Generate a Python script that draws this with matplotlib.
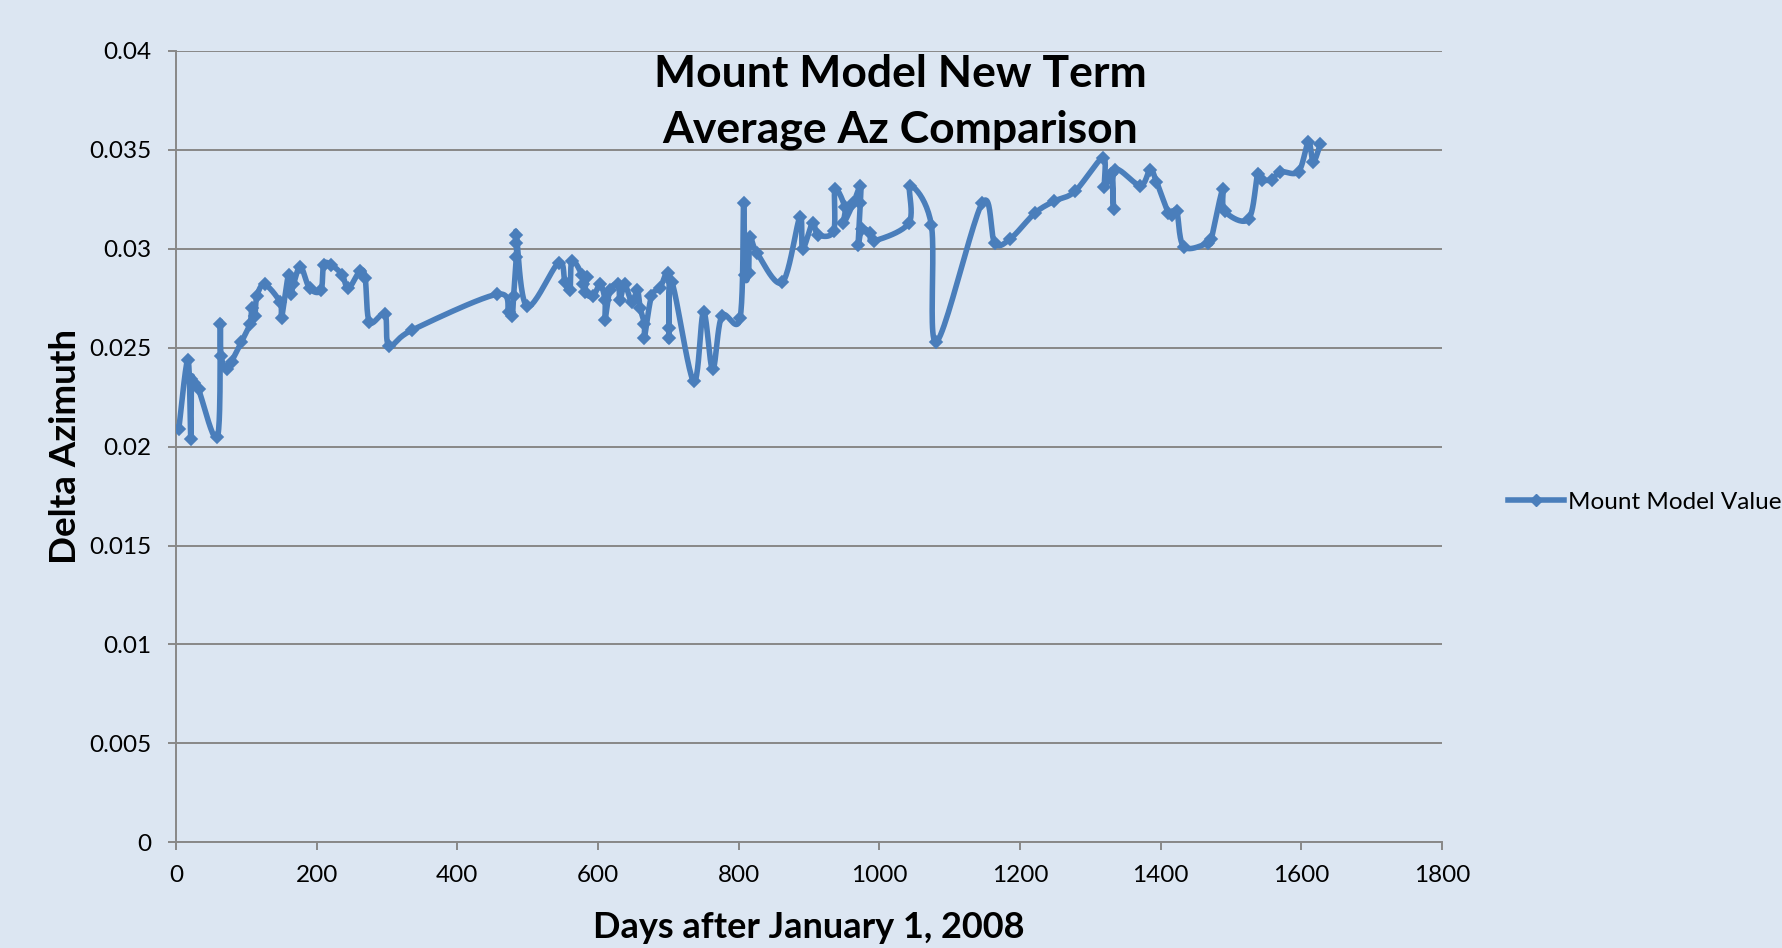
import numpy as np
import matplotlib
matplotlib.use('Agg')
import matplotlib.pyplot as plt
from matplotlib.lines import Line2D

# Days after January 1, 2008 and delta azimuth
days = [4, 17, 21, 22, 26, 32, 59, 63, 64, 72, 79, 93, 105, 108, 112, 115, 126,
        148, 150, 160, 163, 167, 177, 190, 206, 210, 220, 236, 245, 262, 269, 275,
        297, 303, 336, 456, 473, 478, 480, 484, 484, 484, 499, 544, 553, 560, 563,
        577, 579, 584, 582, 593, 603, 610, 610, 617, 629, 631, 638, 648, 656, 660,
        666, 666, 676, 688, 700, 701, 701, 705, 736, 750, 763, 776, 802, 807, 809,
        814, 816, 826, 862, 887, 891, 905, 913, 935, 937, 951, 949, 963, 973, 973,
        970, 975, 987, 992, 1042, 1044, 1074, 1081, 1146, 1164, 1186, 1221, 1248,
        1278, 1318, 1320, 1330, 1333, 1335, 1371, 1385, 1394, 1411, 1416, 1423,
        1433, 1468, 1472, 1488, 1491, 1525, 1538, 1544, 1558, 1570, 1596, 1610,
        1617, 1627]
delta_az = [0.0209, 0.0244, 0.0204, 0.0234, 0.0232, 0.0229, 0.0205, 0.0262, 0.0246,
            0.0239, 0.0243, 0.0253, 0.0262, 0.0270, 0.0266, 0.0276, 0.0282,
            0.0273, 0.0265, 0.0287, 0.0277, 0.0282, 0.0291, 0.0280, 0.0279, 0.0292,
            0.0292, 0.0287, 0.0280, 0.0289, 0.0285, 0.0263,
            0.0267, 0.0251, 0.0259, 0.0277, 0.0268, 0.0266, 0.0276, 0.0296, 0.0303,
            0.0307, 0.0271, 0.0293, 0.0283, 0.0279, 0.0294,
            0.0287, 0.0282, 0.0286, 0.0278, 0.0276, 0.0282, 0.0274, 0.0264, 0.0279,
            0.0282, 0.0274, 0.0282, 0.0273, 0.0279, 0.0270,
            0.0262, 0.0255, 0.0276, 0.0280, 0.0288, 0.0260, 0.0255, 0.0283, 0.0233,
            0.0268, 0.0239, 0.0266, 0.0265, 0.0323, 0.0287,
            0.0288, 0.0306, 0.0298, 0.0283, 0.0316, 0.0300, 0.0313, 0.0307, 0.0309,
            0.0330, 0.0321, 0.0313, 0.0323, 0.0332, 0.0323,
            0.0302, 0.0310, 0.0308, 0.0304, 0.0313, 0.0332, 0.0312, 0.0253, 0.0323,
            0.0303, 0.0305, 0.0318, 0.0324, 0.0329, 0.0346, 0.0331, 0.0338, 0.0320,
            0.0340, 0.0332, 0.0340, 0.0334, 0.0318, 0.0317, 0.0319,
            0.0301, 0.0303, 0.0305, 0.0330, 0.0319, 0.0315, 0.0338, 0.0335, 0.0335,
            0.0339, 0.0339, 0.0354, 0.0344, 0.0353]

x_ticks = [0, 200, 400, 600, 800, 1000, 1200, 1400, 1600, 1800]
y_ticks = [0, 0.005, 0.01, 0.015, 0.02, 0.025, 0.03, 0.035, 0.04]
y_tick_labels = ['0', '0.005', '0.01', '0.015', '0.02', '0.025', '0.03', '0.035', '0.04']

bg = '#dce6f2'
blue = '#4a7ebb'
grid_gray = '#888888'

plt.rcParams['font.family'] = ['Lato', 'DejaVu Sans']

fig = plt.figure(figsize=(17.82, 9.48), dpi=100, facecolor=bg)
ax = fig.add_axes([176 / 1782, 1 - 842.3 / 948, (1442 - 176) / 1782, (842.3 - 51) / 948])
ax.set_facecolor(bg)
ax.set_xlim(0, 1800)
ax.set_ylim(0, 0.04)


def smooth_line(xs, ys, steps=24):
    # Excel style smoothed line: Catmull-Rom bezier worked out in pixel space
    pts = ax.transData.transform(np.column_stack([xs, ys]))
    ext = np.vstack([pts[0], pts, pts[-1]])
    out = []
    for i in range(len(pts) - 1):
        p0, p1, p2, p3 = ext[i], ext[i + 1], ext[i + 2], ext[i + 3]
        c1 = p1 + (p2 - p0) / 6
        c2 = p2 - (p3 - p1) / 6
        t = np.linspace(0, 1, steps)[:, None]
        seg = ((1 - t) ** 3) * p1 + 3 * ((1 - t) ** 2) * t * c1 + 3 * (1 - t) * t ** 2 * c2 + t ** 3 * p2
        out.append(seg if i == 0 else seg[1:])
    curve = np.vstack(out)
    back = ax.transData.inverted().transform(curve)
    return back[:, 0], back[:, 1]


sx, sy = smooth_line(days, delta_az)
ax.plot(sx, sy, color=blue, lw=4, solid_capstyle='round', solid_joinstyle='round', zorder=3)
ax.plot(days, delta_az, linestyle='none', marker='D', ms=6.5, mfc=blue, mec=blue, mew=1.2, zorder=4)

# Grid and axes
ax.set_yticks(y_ticks)
ax.set_yticklabels(y_tick_labels)
ax.set_xticks(x_ticks)
ax.grid(axis='y', color=grid_gray, lw=1.4, zorder=1)
ax.set_axisbelow(True)
for s in ['top', 'right']:
    ax.spines[s].set_visible(False)
for s in ['left', 'bottom']:
    ax.spines[s].set_color(grid_gray)
    ax.spines[s].set_linewidth(1.4)
ax.tick_params(axis='both', colors=grid_gray, width=1.4, length=6, labelcolor='black', labelsize=17.5)
ax.tick_params(axis='y', pad=12)
ax.tick_params(axis='x', pad=10)

ax.set_xlabel('Days after January 1, 2008', fontsize=26, fontweight='bold', labelpad=18)
ax.set_ylabel('Delta Azimuth', fontsize=26.5, fontweight='bold', labelpad=5)

fig.text(0.505, 1 - 102 / 948, 'Mount Model New Term\nAverage Az Comparison', ha='center', va='center',
         fontsize=32, fontweight='bold', linespacing=1.45)

handle = Line2D([], [], color=blue, lw=4, marker='D', ms=6.5, mfc=blue, mec=blue)
fig.legend([handle], ['Mount Model Value'], loc='center left', bbox_to_anchor=(1508 / 1782, 1 - 502 / 948),
           frameon=False, fontsize=17.5, handlelength=2.3, handletextpad=0.15, borderpad=0, borderaxespad=0)

fig.savefig('out.png', dpi=100, facecolor=bg)
